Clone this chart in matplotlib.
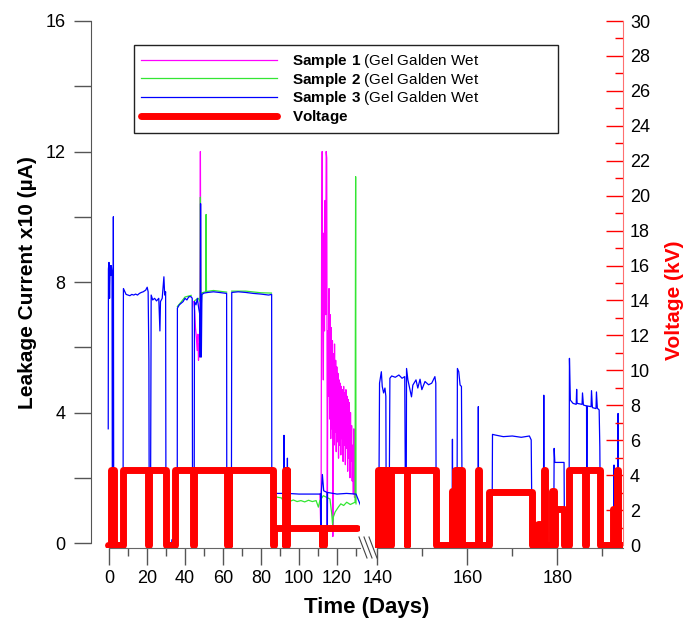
import numpy as np
import matplotlib
matplotlib.use('Agg')
import matplotlib.pyplot as plt
from matplotlib.lines import Line2D
from matplotlib.ticker import MultipleLocator

plt.rcParams['font.family'] = ['Liberation Sans', 'DejaVu Sans']
plt.rcParams['mathtext.fontset'] = 'custom'
plt.rcParams['mathtext.rm'] = 'Liberation Sans'
plt.rcParams['mathtext.bf'] = 'Liberation Sans:bold'

# ---- data: (day, leakage current x10 uA) ----
sample3 = [  # blue
    (-0.4, 3.5), (-0.3, 8.4), (0.0, 8.6), (0.3, 7.5), (0.6, 8.5), (0.9, 8.2), (1.2, 8.5),
    (1.6, 8.3), (1.8, 0.0), (2.1, 0.0), (2.3, 10.0), (2.5, 0.0), (7.4, 0.0), (7.5, 6.5),
    (7.6, 7.8), (8.2, 7.72), (9, 7.62), (10, 7.6), (11, 7.58), (12, 7.62), (13, 7.6),
    (14, 7.63), (15, 7.6), (16, 7.65), (17, 7.68), (18, 7.7), (19.3, 7.75), (20.1, 7.84),
    (20.6, 7.7), (21.0, 5.6), (21.2, 0.0), (21.8, 0.0), (22.2, 7.6), (23, 7.45), (24, 7.5),
    (25, 7.42), (26.2, 7.5), (26.8, 6.5), (27.1, 7.4), (28, 7.5), (28.9, 8.16), (29.3, 7.6),
    (29.8, 7.7), (30.0, 0.0), (33.0, 0.0), (33.1, 0.1), (35.9, 0.1), (36.0, 7.2), (37, 7.3),
    (38, 7.35), (39, 7.4), (40, 7.5), (41, 7.45), (42, 7.55), (43.2, 7.55), (43.8, 7.5),
    (44.0, 0.0), (44.8, 0.0), (45.0, 7.4), (45.8, 7.3), (46.5, 7.5), (47.2, 7.2), (47.8, 7.0),
    (48.0, 5.7), (48.2, 10.4), (48.4, 5.8), (48.6, 5.7), (48.9, 7.62), (50, 7.66), (52, 7.68),
    (55, 7.7), (58, 7.68), (61.9, 7.65), (62.0, 0.0), (64.4, 0.0), (64.6, 7.68), (68, 7.7),
    (72, 7.68), (76, 7.65), (80, 7.63), (84, 7.6), (85.6, 7.62), (85.7, 0.0), (87.3, 0.0),
    (87.4, 1.52), (92.0, 1.52), (92.1, 3.3), (92.2, 0.0), (92.3, 1.52), (93.8, 1.52),
    (93.9, 2.6), (94.0, 1.52), (100, 1.5), (111.5, 1.5), (111.6, 0.0), (111.7, 1.5),
    (112.3, 2.1), (113, 1.6), (114.8, 1.55), (114.9, 0.0), (115.0, 1.55), (120, 1.5),
    (125, 1.52), (130.0, 1.5),
    (140.3, 0.0), (140.5, 4.9), (140.9, 5.25), (141.1, 4.8), (141.4, 4.6), (141.7, 4.75),
    (141.9, 4.5), (142.0, 0.0), (142.6, 0.0), (142.8, 5.05), (143.2, 5.12), (144, 5.08),
    (144.8, 5.15), (145.5, 5.05), (146.1, 5.1), (146.3, 0.0), (146.4, 0.0), (146.5, 5.35),
    (146.8, 5.0), (147.2, 4.74), (147.6, 4.48), (147.9, 4.84), (148.6, 5.0), (149.0, 4.75),
    (149.5, 5.02), (149.9, 4.7), (150.6, 4.95), (151.4, 4.85), (152.1, 4.9), (152.8, 5.1),
    (153.0, 4.9), (153.1, 0.0), (156.6, 0.0), (156.7, 3.18), (156.8, 0.0), (157.7, 0.0),
    (157.8, 5.35), (158.1, 5.25), (158.4, 4.84), (158.7, 4.8), (158.9, 0.0), (162.4, 0.0),
    (162.45, 4.18), (162.5, 0.0), (164.3, 0.0), (164.35, 0.21), (165.5, 0.21), (165.6, 3.33),
    (166.2, 3.31), (168, 3.26), (170, 3.28), (172, 3.24), (173.8, 3.28), (174.2, 3.16),
    (174.4, 0.0), (176.9, 0.0), (177.0, 4.53), (177.1, 0.0), (179.2, 0.0), (179.3, 2.9),
    (179.45, 2.47), (181.5, 2.47), (181.6, 0.0), (182.6, 0.0), (182.7, 5.66), (182.9, 4.38),
    (183.5, 4.28), (184.2, 4.25), (184.3, 4.71), (184.4, 4.28), (185.5, 4.25), (185.6, 4.6),
    (185.8, 4.23), (186.5, 4.2), (186.55, 0.0), (186.65, 4.2), (187.5, 4.18), (187.6, 4.67),
    (187.8, 4.15), (188.6, 4.12), (188.7, 4.63), (188.9, 4.13), (189.3, 4.08), (189.45, 2.95),
    (189.6, 0.0), (192.5, 0.0), (192.6, 2.39), (192.7, 0.0), (193.4, 0.0), (193.5, 3.97),
    (193.6, 0.0), (194.6, 0.0),
]

sample2_a = [  # green, plateau days 36-44
    (36.0, 7.25), (38, 7.39), (40, 7.54), (43.2, 7.59),
]
sample2_b = [  # green, plateau and spikes days 45-62
    (45.1, 7.43), (47.0, 7.5), (48.0, 7.4), (48.1, 10.6), (48.3, 7.0), (48.9, 7.67),
    (50.9, 7.7), (51.1, 10.07), (51.3, 7.71), (55, 7.74), (61.9, 7.69),
]
sample2_c = [  # green, plateau days 64-86
    (64.6, 7.72), (72, 7.72), (80, 7.67), (85.5, 7.66),
]
sample2_d = [  # green, low level days 87-130
    (87.4, 1.42), (89, 1.40), (90.9, 1.38), (92.0, 1.25), (92.6, 1.06), (93.5, 1.15),
    (94.5, 0.95), (95.3, 1.28), (97, 1.32), (99, 1.27), (101, 1.3), (103, 1.26), (105, 1.31),
    (107, 1.27), (109, 1.3), (110.2, 1.1), (111, 1.3), (112.8, 1.45), (114.5, 1.4),
    (116.3, 1.35), (117.2, 0.9), (117.7, 0.55), (118.1, 0.8), (119.0, 0.95), (120.7, 1.1),
    (122, 1.2), (123.5, 1.15), (125.1, 1.25), (127, 1.18), (129.5, 1.25), (129.8, 11.23),
    (130.0, 1.2),
]

sample1_a = [  # magenta, days 44-49
    (44.6, 7.4), (45.1, 7.1), (45.5, 6.6), (46.0, 6.3), (46.4, 5.9), (46.8, 6.4), (47.1, 5.6),
    (47.5, 6.1), (47.8, 5.7), (48.1, 12.0), (48.3, 7.5), (48.6, 7.6),
]
sample1_b = [  # magenta, noisy part days 111-130
    (111.0, 1.5), (111.6, 0.1), (111.9, 9.0), (112.2, 12.0), (112.5, 7.0), (112.8, 5.0),
    (113.1, 9.5), (113.4, 6.5), (113.7, 10.5), (114.0, 7.0), (114.3, 12.0), (114.6, 11.8),
    (114.9, 0.0), (115.2, 6.5), (115.5, 4.5), (115.8, 7.8), (116.1, 3.8), (116.4, 7.0),
    (116.7, 3.2), (117.0, 6.6), (117.3, 3.5), (117.6, 6.2), (117.8, 0.2), (118.1, 5.8),
    (118.4, 3.0), (118.7, 6.1), (119.0, 3.4), (119.3, 5.6), (119.6, 2.8), (119.9, 5.4),
    (120.2, 3.1), (120.5, 5.2), (120.8, 2.6), (121.1, 5.0), (121.4, 3.0), (121.7, 4.9),
    (122.0, 2.7), (122.3, 4.8), (122.6, 3.2), (122.9, 4.7), (123.2, 2.5), (123.5, 4.8),
    (123.8, 3.0), (124.1, 4.6), (124.4, 2.4), (124.7, 4.7), (125.0, 2.9), (125.3, 4.5),
    (125.6, 2.2), (125.9, 4.4), (126.2, 2.6), (126.5, 4.3), (126.8, 2.0), (127.1, 4.0),
    (127.4, 2.5), (127.7, 3.6), (128.0, 1.9), (128.3, 3.0), (128.6, 1.5), (128.9, 3.5),
    (129.2, 1.4), (129.5, 1.6), (129.8, 1.5),
]

# voltage (kV), step-post: value holds from this day to the next
voltage = [
    (-0.6, 0), (0.8, 4.3), (2.6, 0), (7.4, 4.3), (20.7, 0), (21.3, 4.3), (30.2, 0),
    (34.8, 4.3), (44.2, 0), (44.8, 4.3), (61.9, 0), (62.5, 4.3), (63.0, 0), (63.4, 4.3),
    (86.2, 0), (86.9, 1.0), (92.4, 0), (92.7, 4.3), (93.1, 0), (93.5, 4.3), (93.8, 1.0),
    (111.9, 0), (112.3, 1.0), (112.7, 0), (113.3, 1.0), (130.3, 1.0), (130.31, np.nan),
    (139.9, 0), (140.2, 4.3), (140.6, 0), (140.9, 4.3), (141.3, 0), (141.7, 4.3), (142.1, 0),
    (142.5, 4.3), (142.8, 0), (143.1, 4.3), (146.5, 0), (146.7, 4.3), (153.1, 0),
    (156.6, 3.1), (156.9, 0), (157.2, 4.3), (157.6, 0), (157.9, 4.3), (158.8, 0),
    (162.3, 4.3), (162.6, 0), (164.9, 3.05), (174.4, 0), (175.8, 1.2), (176.1, 0),
    (177.0, 4.3), (177.3, 0), (178.9, 3.1), (179.3, 0), (179.6, 2.05), (181.4, 0),
    (182.5, 4.3), (186.1, 0), (186.4, 4.3), (189.5, 0), (192.3, 2.05), (192.6, 0),
    (192.9, 2.05), (193.2, 4.3), (193.5, 0), (194.6, 0),
]

legend_labels = [r'$\mathbf{Sample\ 1}$ (Gel Galden Wet',
                 r'$\mathbf{Sample\ 2}$ (Gel Galden Wet',
                 r'$\mathbf{Sample\ 3}$ (Gel Galden Wet',
                 r'$\mathbf{Voltage}$']

C_MAG, C_GRN, C_BLU, C_RED = '#ff00ff', '#33e633', '#0000ff', '#ff0000'
W, H = 699, 624


def arr(pts):
    a = np.array(pts, dtype=float)
    return a[:, 0], a[:, 1]


fig = plt.figure(figsize=(W / 100, H / 100), dpi=100)
fig.patch.set_facecolor('white')

box_b, box_h = 1 - 548 / H, (548 - 21) / H
axL = fig.add_axes([91 / W, box_b, (360 - 91) / W, box_h])
axR = fig.add_axes([375 / W, box_b, (623 - 375) / W, box_h])
axL.set_xlim(-9.47, 132.1)
axR.set_xlim(139.49, 194.6)

for ax in (axL, axR):
    ax.set_ylim(-0.153, 16)
    ax.patch.set_alpha(0)
    for seg in (sample1_a, sample1_b):
        ax.plot(*arr(seg), color=C_MAG, lw=0.9)
    for seg in (sample2_a, sample2_b, sample2_c, sample2_d):
        ax.plot(*arr(seg), color=C_GRN, lw=0.9)
    ax.plot(*arr(sample3), color=C_BLU, lw=0.9)
    ax.spines['top'].set_visible(False)
    ax.spines['right'].set_visible(False)
    ax.spines['bottom'].set_color('#666666')
    ax.xaxis.set_major_locator(MultipleLocator(20))
    ax.xaxis.set_minor_locator(MultipleLocator(10))
    ax.tick_params(axis='x', which='major', direction='out', length=12, width=1,
                   color='#555555', labelsize=13, pad=4)
    ax.tick_params(axis='x', which='minor', direction='out', length=6, width=1,
                   color='#555555')

axL.spines['left'].set_color('#555555')
axL.spines['left'].set_bounds(0, 16)
axL.spines['bottom'].set_bounds(0, 132.1)
axL.yaxis.set_major_locator(MultipleLocator(4))
axL.yaxis.set_minor_locator(MultipleLocator(2))
axL.tick_params(axis='y', which='both', direction='out', length=12.5, width=1,
                color='#555555', labelsize=13, pad=6)
axL.set_xticks([0, 20, 40, 60, 80, 100, 120])

axR.spines['left'].set_visible(False)
axR.spines['bottom'].set_bounds(140, 194.6)
axR.set_yticks([])
axR.set_xticks([140, 160, 180])

# voltage on twin axes
for ax in (axL, axR):
    axv = ax.twinx()
    axv.set_ylim(-0.17, 30)
    t, v = arr(voltage)
    axv.plot(t, v, color=C_RED, lw=5, drawstyle='steps-post',
             solid_joinstyle='round', solid_capstyle='round')
    for s in axv.spines.values():
        s.set_visible(False)
    axv.set_yticks([])
    if ax is axR:
        axv.spines['right'].set_visible(True)
        axv.spines['right'].set_color('#ff7070')
        axv.spines['right'].set_bounds(0, 30)
        axv.yaxis.set_major_locator(MultipleLocator(2))
        axv.yaxis.set_minor_locator(MultipleLocator(1))
        axv.tick_params(axis='y', which='major', direction='in', length=12, width=1,
                        color=C_RED, labelsize=13, pad=5)
        axv.tick_params(axis='y', which='minor', direction='in', length=6, width=1,
                        color=C_RED)

# axis break marks
for x0 in (359, 364, 369):
    fig.add_artist(Line2D([x0 / W, (x0 + 8) / W], [1 - 537 / H, 1 - 558 / H],
                          color='#444444', lw=0.8))

# labels
fig.text(367 / W, 1 - 607 / H, 'Time (Days)', fontsize=16, fontweight='bold',
         ha='center', va='center')
fig.text(28 / W, 1 - 283 / H, 'Leakage Current x10 (µA)', fontsize=15,
         fontweight='bold', rotation=90, ha='center', va='center')
fig.text(675 / W, 1 - 300 / H, 'Voltage (kV)', fontsize=15, fontweight='bold',
         color=C_RED, rotation=90, ha='center', va='center')

handles = [Line2D([], [], color=C_MAG, lw=0.9),
           Line2D([], [], color=C_GRN, lw=0.9),
           Line2D([], [], color=C_BLU, lw=0.9),
           Line2D([], [], color=C_RED, lw=5, solid_capstyle='round')]
leg = fig.legend(handles, legend_labels, loc='upper left',
                 bbox_to_anchor=(134 / W, 1 - 128 / H, (558 - 134) / W, (128 - 45) / H),
                 mode='expand', borderaxespad=0,
                 fontsize=11, frameon=True, fancybox=False, framealpha=1,
                 edgecolor='#222222', borderpad=0.45, labelspacing=0.05,
                 handlelength=8.9, handletextpad=1.0)
leg.get_frame().set_linewidth(1)

fig.savefig('out.png', dpi=100)
